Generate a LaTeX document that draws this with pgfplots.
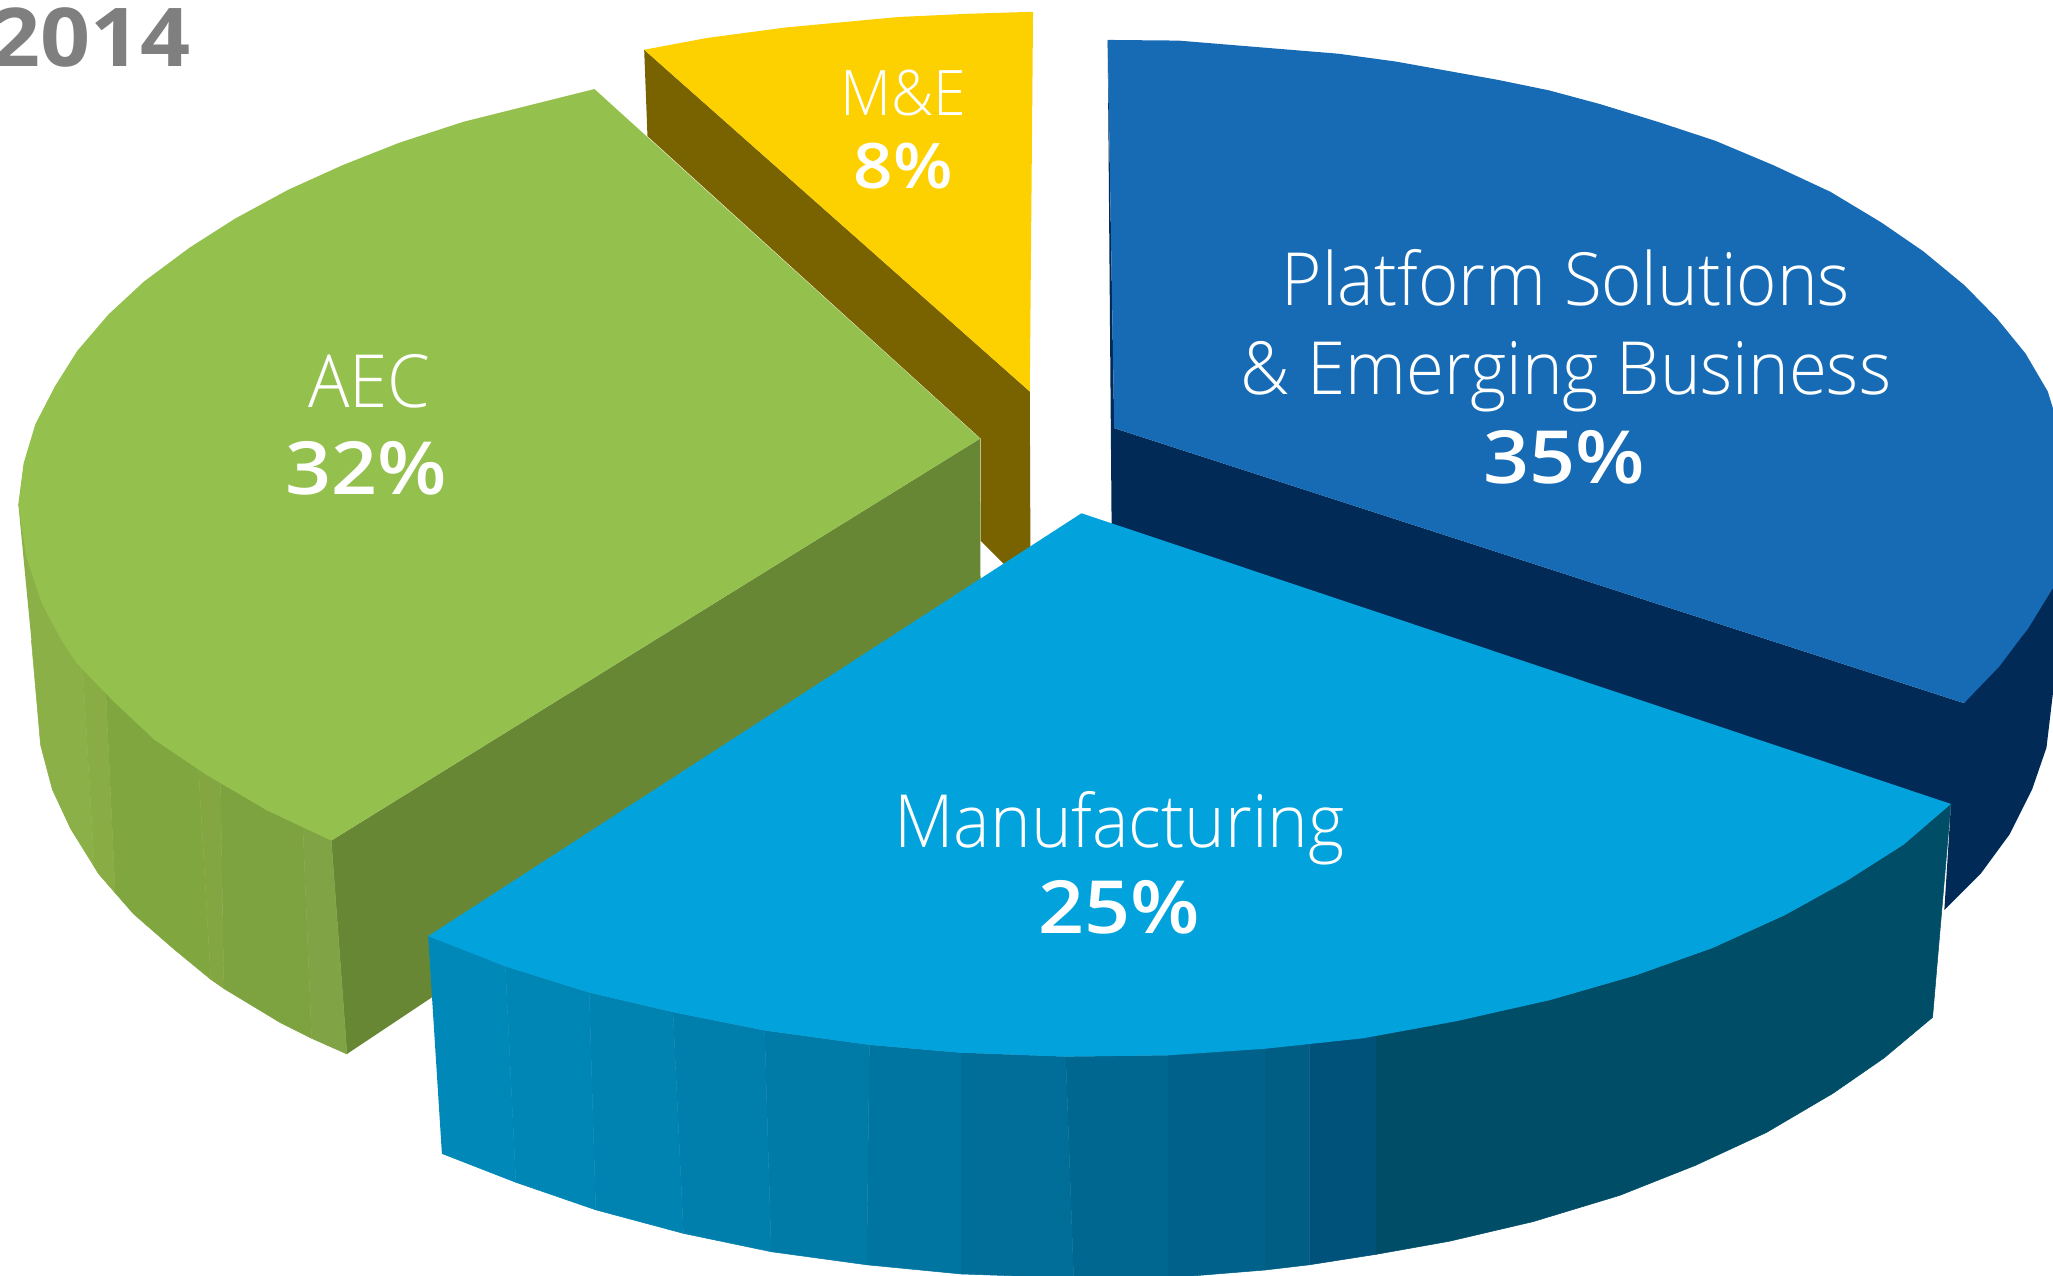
\documentclass[border=0pt]{standalone}
\usepackage{fontspec}
\usepackage{pgfplots}
\pgfplotsset{compat=1.18}
\setmainfont{Carlito}
\newfontfamily\lab[FakeStretch=0.94]{Open Sans Light}
\newfontfamily\num[FakeStretch=1.1]{Open Sans Semibold}
\newfontfamily\yr[FakeStretch=1.08]{Open Sans Bold}

\definecolor{mecol}{HTML}{FDD000}
\definecolor{mecut}{HTML}{796300}
\definecolor{aeccol}{HTML}{94C14E}
\definecolor{aeccut}{HTML}{688735}
\definecolor{pscol}{HTML}{166BB4}
\definecolor{pscut}{HTML}{012A56}
\definecolor{mfgcol}{HTML}{02A3DD}
\definecolor{yeartxt}{HTML}{7F7F7F}

% outer wall of AEC, left to right
\definecolor{a1}{HTML}{8BB047}
\definecolor{a2}{HTML}{8AAC44}
\definecolor{a3}{HTML}{80A73F}
\definecolor{a4}{HTML}{84A642}
\definecolor{a5}{HTML}{7CA33F}
\definecolor{a6}{HTML}{7FA345}
% outer wall of Manufacturing, left to right
\definecolor{m1}{HTML}{0088B8}
\definecolor{m2}{HTML}{0086B5}
\definecolor{m3}{HTML}{0083B1}
\definecolor{m4}{HTML}{007FAD}
\definecolor{m5}{HTML}{007BA8}
\definecolor{m6}{HTML}{0075A2}
\definecolor{m7}{HTML}{006E99}
\definecolor{m8}{HTML}{006890}
\definecolor{m9}{HTML}{00628A}
\definecolor{m10}{HTML}{005D83}
\definecolor{m11}{HTML}{00527A}
\definecolor{m12}{HTML}{004D68}

\tikzset{
    txt/.style={anchor=base, text=white, inner sep=0pt},
    facet/.style={fill=#1, draw=#1, line width=0.2pt},
}

\begin{document}
\begin{tikzpicture}
\useasboundingbox (0,0) rectangle (784pt,487pt);
\clip (0,0) rectangle (784pt,487pt);
\begin{axis}[
    at={(0,0)},
    anchor=south west,
    width=784pt,
    height=487pt,
    scale only axis,
    hide axis,
    xmin=0, xmax=1568,
    ymin=0, ymax=974,
    y dir=reverse,
    clip=true,
    every axis plot/.append style={draw=none},
]

% M&E
\addplot[fill=mecut] coordinates {
    (492,38) (494.5,104) (749,335) (749,413) (767,431) (787,425) (786.5,299)
};
\addplot[fill=mecol] coordinates {
    (492,38) (540,29) (600,21) (686,13) (740,10.5) (789,9) (786.5,299)
};

% AEC: cut face, wall facets (their tops run under the top face), top face
\addplot[fill=aeccut] coordinates {
    (748.5,335) (253,642) (265,805) (749,482)
};
\addplot[facet=a1] coordinates {
    (14,385) (40,400) (62,490) (72,662) (54,633) (40,603) (31,569) (24,489)
};
\addplot[facet=a2] coordinates {
    (62,490) (80,510) (88,682) (75,667) (72,662)
};
\addplot[facet=a3] coordinates {
    (80,510) (150,560) (161,748) (133,725) (102,698) (88,682)
};
\addplot[facet=a4] coordinates {
    (150,560) (168,570) (171,755) (161,748)
};
\addplot[facet=a5] coordinates {
    (168,570) (230,600) (238,793) (214,781) (171,755)
};
\addplot[facet=a6] coordinates {
    (230,600) (253,620) (253,642) (265,805) (238,793)
};
\addplot[fill=aeccol] coordinates {
    (454,68) (354,93) (305,109) (262,126) (220,145) (179.5,167) (145,189) (110,215) (83,240) (59,268)
    (42,295) (27,324) (18,354) (14,385) (20,425) (32,461) (47,489) (59,507) (86,535)
    (118,565) (158,592) (204,619) (253,642) (748.5,335)
};

% Platform Solutions & Emerging Business
\addplot[fill=pscut] coordinates {
    (846,31) (849,402) (1490,615) (1485,695) (1513,667) (1535,637) (1552,603)
    (1563,571) (1568,529) (1568,445) (1500,537) (851,327)
};
\addplot[fill=pscol] coordinates {
    (846,30.5) (900,31) (973,37) (1022,41) (1066,47) (1144,61) (1183,69) (1222,79.5) (1266,93)
    (1310,107.5) (1354,126) (1398,146.5) (1437,170) (1469,192) (1500.5,218) (1525,243)
    (1547,270) (1564,299) (1568,312) (1568,449) (1549,480) (1542,489) (1527,509) (1500,537) (851,327)
};

% Manufacturing, wall first
\addplot[facet=m1] coordinates {(327,715) (386,738) (394,903) (337.5,881)};
\addplot[facet=m2] coordinates {(386,738) (450,758) (455,924) (394,903)};
\addplot[facet=m3] coordinates {(450,758) (514,773) (522,942) (455,924)};
\addplot[facet=m4] coordinates {(514,773) (584,787) (589,956) (522,942)};
\addplot[facet=m5] coordinates {(584,787) (664,798) (662,966) (589,956)};
\addplot[facet=m6] coordinates {(664,798) (734,804) (734,973) (662,966)};
\addplot[facet=m7] coordinates {(734,804) (814,807) (820,976) (734,973)};
\addplot[facet=m8] coordinates {(814,807) (892,806) (892,976) (820,976)};
\addplot[facet=m9] coordinates {(892,800) (966,796) (966,970) (892,976)};
\addplot[facet=m10] coordinates {(966,796) (1000,790) (1000,966) (966,970)};
\addplot[facet=m11] coordinates {(1000,790) (1051,785) (1051,958) (1000,966)};
\addplot[facet=m12] coordinates {
    (1051,785) (1112,775) (1183,764) (1249,745) (1308,724) (1363,699) (1410,673) (1454,645) (1490,614)
    (1476,777) (1439,808) (1400,835) (1349,865) (1295,890) (1237,913) (1171,933) (1107,948) (1051,958)
};
\addplot[fill=mfgcol] coordinates {
    (826,392) (1490,614) (1454,645) (1410,673) (1363,699) (1308,724) (1249,745)
    (1183,764) (1112,780) (1041,793) (966,801) (892,806) (814,807) (734,804) (664,798)
    (584,787) (514,773) (450,758) (386,738) (327,715)
};

% labels
\node[txt, font=\lab\fontsize{28}{28}\selectfont] at (axis cs:1196,233) {Platform Solutions};
\node[txt, font=\lab\fontsize{28}{28}\selectfont] at (axis cs:1196,301) {\& Emerging Business};
\node[txt, font=\num\fontsize{28}{28}\selectfont] at (axis cs:1195,369) {35\%};
\node[txt, font=\lab\fontsize{28}{28}\selectfont] at (axis cs:855,647) {Manufacturing};
\node[txt, font=\num\fontsize{28}{28}\selectfont] at (axis cs:855,713) {25\%};
\node[txt, font=\lab\fontsize{28}{28}\selectfont] at (axis cs:282,311) {AEC};
\node[txt, font=\num\fontsize{28}{28}\selectfont] at (axis cs:280,378) {32\%};
\node[txt, font=\lab\fontsize{24}{24}\selectfont] at (axis cs:690,88) {M\&E};
\node[txt, font=\num\fontsize{24}{24}\selectfont] at (axis cs:690,144) {8\%};
\node[anchor=base east, inner sep=0pt, text=yeartxt, font=\yr\fontsize{31}{31}\selectfont] at (axis cs:146,51) {2014};
\end{axis}
\end{tikzpicture}
\end{document}
